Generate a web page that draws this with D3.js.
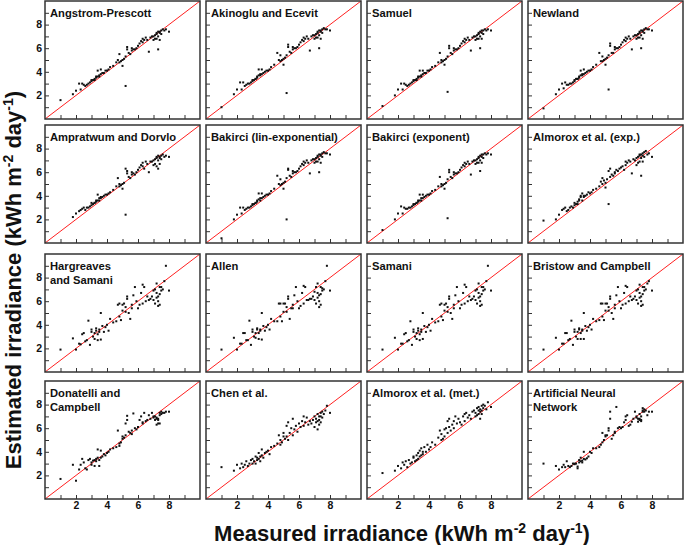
<!DOCTYPE html>
<html>
<head>
<meta charset="utf-8">
<script src="https://cdn.jsdelivr.net/npm/d3@7"></script>
<style>
  body { margin: 0; background: #fff; }
  svg text { font-family: "Liberation Sans", Arial, sans-serif; font-weight: bold; }
</style>
</head>
<body>
<div id="chart"></div>
<script>
// Panel titles (row by row)
var titles = [
  "Angstrom-Prescott", "Akinoglu and Ecevit", "Samuel", "Newland",
  "Ampratwum and Dorvlo", "Bakirci (lin-exponential)", "Bakirci (exponent)", "Almorox et al. (exp.)",
  "Hargreaves\nand Samani", "Allen", "Samani", "Bristow and Campbell",
  "Donatelli and\nCampbell", "Chen et al.", "Almorox et al. (met.)", "Artificial Neural\nNetwork"
];

// Measured irradiance (same for every panel)
var measured = [
  1.0,1.8,2.0,2.2,2.3,2.4,2.5,2.6,2.7,2.8,
  2.9,3.0,3.0,3.1,3.2,3.2,3.3,3.3,3.4,3.4,
  3.5,3.5,3.6,3.6,3.7,3.8,3.9,4.0,4.1,4.2,
  4.4,4.6,4.7,4.8,4.8,4.9,5.0,5.0,5.1,5.2,
  5.2,5.3,5.3,5.4,5.5,5.6,5.6,5.7,5.8,5.9,
  6.0,6.1,6.2,6.3,6.3,6.4,6.5,6.6,6.7,6.8,
  6.9,7.0,7.0,7.1,7.1,7.2,7.2,7.2,7.3,7.3,
  7.3,7.4,7.4,7.4,7.5,7.5,7.6,7.7,7.8,8.0
];

// Estimated irradiance, one array per model
var angstrom = [
  1.6,2.1,2.4,3.0,2.5,3.0,2.9,2.8,2.9,3.0,
  3.1,3.2,3.3,3.3,3.4,3.3,3.5,3.6,3.6,4.1,
  3.6,3.7,4.2,3.8,3.9,3.9,4.1,4.1,4.2,4.4,
  4.5,4.8,5.0,4.8,5.5,4.9,5.0,4.5,5.1,5.3,
  2.8,5.9,6.1,5.6,5.5,5.8,6.0,5.9,5.9,6.0,
  6.2,6.4,6.6,6.5,6.8,6.7,6.9,6.7,5.7,6.9,
  7.0,7.0,6.7,7.1,6.8,7.2,7.3,6.8,7.0,5.9,
  7.4,7.4,6.7,7.3,7.5,7.2,7.6,7.5,7.6,7.4
];
var akinoglu = [
  1.0,2.1,2.5,3.1,2.5,3.1,2.8,2.9,3.0,3.0,
  3.1,3.2,3.3,3.3,3.4,3.4,3.5,3.6,3.7,4.2,
  3.7,3.8,4.2,3.8,3.9,4.0,4.1,4.1,4.2,4.4,
  4.6,5.6,5.0,4.9,5.4,5.0,5.1,4.6,5.2,5.4,
  2.2,6.1,6.3,5.7,5.6,5.9,6.1,6.0,6.0,6.1,
  6.3,6.5,6.7,6.6,6.9,6.8,7.0,6.8,5.8,7.0,
  7.1,7.1,6.8,7.2,6.9,7.3,7.4,6.9,7.1,6.0,
  7.5,7.5,6.8,7.4,7.6,7.3,7.7,7.6,7.6,7.5
];
var samuel = [
  1.1,2.0,2.5,3.0,2.5,3.0,2.9,2.8,2.9,3.0,
  3.1,3.2,3.3,3.3,3.4,3.3,3.5,3.6,3.6,4.1,
  3.6,3.7,4.1,3.8,3.9,3.9,4.1,4.1,4.2,4.4,
  4.5,4.8,5.6,4.8,5.0,4.9,5.0,4.6,5.1,5.3,
  2.3,6.0,6.2,5.6,5.5,5.8,6.0,5.9,5.9,6.0,
  6.2,6.4,6.6,6.5,6.8,6.7,6.9,6.7,5.8,6.9,
  7.0,7.0,6.7,7.1,6.8,7.2,7.3,6.8,7.0,6.0,
  7.4,7.5,6.8,7.3,7.5,7.2,7.6,7.5,7.6,7.5
];
var newland = [
  0.9,2.1,2.5,3.0,2.6,3.1,2.9,2.9,3.0,3.0,
  3.1,3.2,3.3,3.4,3.4,3.4,3.5,3.6,3.7,4.1,
  3.7,3.8,4.2,3.8,3.9,4.0,4.1,4.1,4.2,4.4,
  4.6,5.6,4.9,4.9,5.3,5.0,5.1,4.6,5.2,5.4,
  2.5,6.2,6.4,5.6,5.6,5.9,6.1,6.0,6.0,6.1,
  6.3,6.5,6.7,6.6,6.9,6.8,7.0,6.8,5.9,7.0,
  7.1,7.1,6.8,7.2,6.9,7.3,7.4,6.9,7.1,6.0,
  7.5,7.5,6.8,7.4,7.6,7.3,7.7,7.6,7.6,7.5
];
var ampratwum = [
  null,2.2,2.5,2.7,2.8,2.9,3.0,2.8,3.0,3.0,
  3.1,3.2,3.4,3.3,3.4,3.4,3.5,3.6,3.6,4.1,
  3.6,3.8,3.9,3.8,3.9,4.0,4.1,4.1,4.2,4.3,
  4.5,4.8,5.5,4.8,5.0,4.9,5.0,4.6,5.1,6.3,
  2.4,5.9,6.1,5.6,5.5,5.8,6.0,5.9,5.8,6.0,
  6.2,6.4,6.6,6.5,6.8,6.3,6.9,6.7,6.0,6.9,
  6.9,7.0,6.6,7.1,6.7,7.2,7.3,6.5,7.0,6.3,
  7.4,7.3,6.7,7.2,7.4,7.1,7.5,7.3,7.4,7.3
];
var bakirciLin = [
  0.4,2.0,2.4,3.0,2.5,3.0,2.8,2.9,3.0,3.0,
  3.1,3.2,3.3,3.3,3.4,3.4,3.5,3.6,3.7,4.2,
  3.6,3.8,4.2,3.8,3.9,4.0,4.1,4.1,4.2,4.4,
  4.6,5.7,5.0,4.9,5.4,5.0,5.1,4.6,5.2,5.5,
  2.0,6.2,6.3,5.7,5.6,5.9,6.1,6.0,6.0,6.1,
  6.3,6.5,6.7,6.6,6.9,6.8,7.0,6.8,5.9,7.0,
  7.1,7.1,6.8,7.2,6.9,7.3,7.4,6.9,7.1,6.0,
  7.5,7.5,6.8,7.4,7.6,7.3,7.7,7.6,7.6,7.5
];
var bakirciExp = [
  1.1,2.0,2.5,3.1,2.5,3.0,2.9,2.9,3.0,3.0,
  3.1,3.2,3.3,3.3,3.4,3.4,3.5,3.6,3.6,4.1,
  3.6,3.8,4.1,3.8,3.9,4.0,4.1,4.1,4.2,4.4,
  4.5,4.8,5.6,4.8,5.0,4.9,5.0,4.6,5.1,5.4,
  2.1,6.0,6.2,5.6,5.5,5.8,6.0,5.9,5.9,6.0,
  6.2,6.4,6.6,6.5,6.8,6.7,6.9,6.7,5.8,6.9,
  7.0,7.0,6.7,7.1,6.8,7.2,7.3,6.8,7.0,6.1,
  7.4,7.5,6.8,7.3,7.5,7.2,7.6,7.5,7.6,7.5
];
var almoroxExp = [
  1.9,2.0,2.4,2.8,2.9,3.0,2.7,2.8,3.0,3.1,
  3.0,3.2,3.4,3.3,3.5,3.3,3.7,3.6,3.9,4.0,
  3.6,4.2,3.9,4.0,4.0,4.1,4.3,4.2,4.3,4.5,
  4.6,4.8,5.2,5.0,5.5,5.3,5.1,4.7,5.4,6.1,
  3.3,6.3,5.6,5.8,5.7,6.0,5.9,6.2,6.1,6.3,
  6.4,6.5,6.2,6.6,6.9,6.8,7.0,6.9,5.9,7.1,
  7.0,7.2,6.6,7.3,6.8,7.4,7.5,6.9,7.2,5.7,
  7.5,7.6,6.9,7.4,7.7,7.3,7.8,7.5,7.6,7.3
];
var hargreaves = [
  1.9,2.85,1.9,2.4,2.35,3.2,3.3,2.6,2.7,4.35,
  2.3,3.4,3.6,3.0,2.8,3.3,3.5,3.7,2.7,3.2,
  3.6,3.4,5.0,2.75,3.9,3.4,3.8,4.0,3.5,4.5,
  4.2,4.3,5.7,4.7,5.8,4.4,5.7,5.2,5.8,5.1,
  5.5,6.2,6.4,5.0,4.5,5.4,5.7,6.5,7.2,6.0,
  5.4,5.7,6.7,7.4,5.8,7.2,6.0,6.4,6.1,6.2,
  6.4,6.9,6.1,7.0,5.8,6.7,7.5,6.3,5.6,6.0,
  6.4,5.7,7.2,6.6,6.9,7.2,7.0,7.7,9.0,6.9
];
var allen = [
  1.9,2.9,1.9,2.4,2.4,3.3,3.3,2.7,2.7,4.35,
  2.3,3.4,3.6,3.0,2.9,3.3,3.6,3.7,2.8,3.3,
  3.6,3.5,5.0,2.75,3.9,3.5,3.8,4.0,3.6,4.5,
  4.3,4.3,5.8,4.7,5.8,4.3,5.8,5.1,5.8,5.1,
  5.5,6.2,6.4,4.5,5.4,5.4,5.7,6.5,7.2,6.0,
  5.4,5.6,6.7,7.3,5.8,7.2,6.1,6.1,6.2,6.2,
  6.4,6.8,6.1,7.2,5.8,7.5,6.7,6.3,5.5,6.0,
  6.5,5.7,7.2,6.6,6.9,7.1,7.0,7.7,9.0,6.9
];
var samani = [
  1.9,2.9,1.9,2.4,2.4,3.2,3.3,2.6,2.7,4.3,
  2.3,3.4,3.6,3.0,2.8,3.3,3.5,3.7,2.7,3.2,
  3.6,3.4,5.0,2.8,3.9,3.4,3.8,4.0,3.5,4.5,
  4.2,4.3,5.7,4.7,5.8,4.4,5.7,5.2,5.8,5.1,
  5.5,6.2,6.4,5.0,4.5,5.4,5.7,6.5,7.2,6.0,
  5.4,5.7,6.7,7.4,5.8,7.2,6.0,6.4,6.1,6.2,
  6.4,6.9,6.1,7.0,5.8,6.7,7.5,6.3,5.6,6.0,
  6.4,5.7,7.2,6.6,6.9,7.2,7.0,7.7,9.0,6.9
];
var bristow = [
  1.9,2.9,1.9,2.4,2.4,3.3,3.3,2.7,2.8,4.35,
  2.3,3.4,3.6,3.0,2.8,3.4,3.6,3.7,2.8,3.3,
  3.6,3.5,5.0,2.8,3.9,3.5,3.8,4.0,3.6,4.5,
  4.3,4.4,5.8,4.7,5.8,4.4,5.8,5.2,5.8,5.2,
  5.5,6.2,6.4,5.0,4.5,5.4,5.7,6.5,7.2,6.0,
  5.4,5.7,6.7,7.3,5.8,7.2,6.0,6.4,6.1,6.2,
  6.4,6.9,6.1,7.0,5.8,6.7,7.4,6.3,5.6,6.0,
  6.4,5.7,7.2,6.6,6.9,7.2,7.0,7.5,7.7,6.9
];
var donatelli = [
  1.7,2.9,1.55,2.5,2.9,3.4,3.1,2.6,2.5,3.3,
  3.4,2.9,3.1,3.25,3.3,2.8,3.4,3.2,4.2,3.5,
  3.3,2.8,4.1,3.5,3.6,3.8,3.7,3.9,4.0,4.2,
  4.3,4.4,5.8,4.5,4.7,4.8,5.1,5.3,5.2,6.4,
  5.4,6.7,7.05,5.7,5.6,5.8,5.5,7.25,6.0,5.9,
  6.1,6.7,7.0,6.4,6.5,7.3,6.6,6.7,7.1,6.8,
  7.3,6.9,7.0,6.7,7.0,6.8,6.3,6.9,6.4,6.8,
  6.7,7.3,7.1,6.4,7.4,7.2,7.3,7.3,7.4,7.4
];
var chen = [
  2.7,2.4,2.9,2.6,3.0,2.7,2.9,3.2,2.8,3.0,
  3.3,3.0,3.4,3.2,3.0,3.6,3.3,3.5,3.9,3.4,
  3.6,3.2,4.2,3.7,3.5,3.9,4.0,4.1,3.8,4.4,
  4.5,4.7,5.4,4.6,5.0,4.8,5.3,5.6,5.1,6.2,
  5.3,6.5,5.0,5.6,6.0,5.4,6.8,5.9,6.2,5.7,
  6.4,6.1,6.6,7.0,6.2,6.5,6.9,6.3,6.6,6.4,
  6.7,6.1,7.0,6.5,6.8,5.9,7.2,6.6,6.3,7.0,
  6.7,7.3,6.5,7.0,7.4,6.9,7.2,7.5,7.9,7.3
];
var almoroxMet = [
  2.2,2.4,2.8,2.6,3.1,2.9,3.2,2.7,3.3,3.0,
  3.1,3.5,3.6,3.2,3.7,3.3,3.4,3.9,3.6,4.1,
  3.7,4.3,4.0,3.8,4.4,4.0,4.6,4.2,4.4,4.8,
  4.6,5.2,5.8,5.0,5.5,5.1,5.9,5.3,6.0,6.6,
  5.6,6.1,6.8,5.8,6.3,6.6,6.0,7.0,6.4,6.8,
  6.5,6.3,7.0,7.2,6.6,7.3,6.9,7.1,6.8,7.4,
  7.5,7.0,7.3,7.7,7.1,7.5,7.8,7.2,7.4,6.8,
  7.6,7.9,7.2,7.5,8.0,7.7,7.9,7.6,8.2,7.8
];
var ann = [
  3.0,2.8,2.5,2.7,2.9,2.7,3.2,2.8,2.7,2.8,
  3.0,2.95,3.0,3.0,2.6,2.75,3.3,3.1,3.5,3.2,
  3.25,3.1,4.0,3.4,3.35,3.45,3.6,4.0,3.9,4.3,
  4.3,4.4,4.6,5.6,4.8,5.0,5.3,5.4,5.4,5.8,
  6.0,6.8,7.4,5.1,5.4,5.6,5.7,7.8,6.0,6.1,
  6.0,6.1,6.5,7.0,6.7,7.1,6.2,6.3,6.55,6.8,
  7.4,6.9,7.0,6.8,6.55,6.7,6.8,7.2,6.7,7.0,
  6.6,7.4,7.7,7.5,7.6,7.4,7.5,7.1,7.4,7.4
];

var estimates = [
  angstrom, akinoglu, samuel, newland,
  ampratwum, bakirciLin, bakirciExp, almoroxExp,
  hargreaves, allen, samani, bristow,
  donatelli, chen, almoroxMet, ann
];

var tickValues = [1, 2, 3, 4, 5, 6, 7, 8, 9];
var labelTicks = [2, 4, 6, 8];

// layout
var svgWidth = 685;
var svgHeight = 545;
var panelLefts = [45, 206, 367, 528];
var panelTops = [1, 125, 254, 381];
var panelW = 155;
var panelH = 118;

var svg = d3.select("#chart")
  .append("svg")
  .attr("width", svgWidth)
  .attr("height", svgHeight);

// Scales are the same for every panel
var xScale = d3.scaleLinear().domain([0, 10]).range([0, panelW]);
var yScale = d3.scaleLinear().domain([0, 10]).range([panelH, 0]);

var line = d3.line()
  .x(d => xScale(d[0]))
  .y(d => yScale(d[1]));

titles.forEach(function(title, i) {
  var row = Math.floor(i / 4);
  var col = i % 4;
  var g = svg.append("g")
    .attr("transform", `translate(${panelLefts[col]}, ${panelTops[row]})`);

  // bottom axis, ticks pointing inward
  var bottomAxis = d3.axisBottom(xScale)
    .tickValues(tickValues)
    .tickSize(-4)
    .tickPadding(3)
    .tickFormat(d => (row === 3 && labelTicks.includes(d)) ? d : "");
  var bx = g.append("g")
    .attr("transform", `translate(0, ${panelH})`)
    .call(bottomAxis);

  var leftAxis = d3.axisLeft(yScale)
    .tickValues(tickValues)
    .tickSize(-4)
    .tickPadding(3)
    .tickFormat(d => (col === 0 && labelTicks.includes(d)) ? d : "");
  var ly = g.append("g").call(leftAxis);

  [bx, ly].forEach(function(ax) {
    ax.select(".domain").remove();
    ax.selectAll("line").attr("stroke", "#333").attr("stroke-width", 1);
    ax.selectAll("text")
      .attr("font-size", "10.5px")
      .attr("font-family", "Liberation Sans, Arial, sans-serif")
      .attr("font-weight", "bold")
      .attr("fill", "#111");
  });

  // 1:1 line
  g.append("path")
    .datum([[0, 0], [10, 10]])
    .attr("d", line)
    .attr("stroke", "#ff2020")
    .attr("stroke-width", 1)
    .attr("fill", "none");

  // points
  var pts = measured.map((m, k) => ({ x: m, y: estimates[i][k] }))
    .filter(d => d.y !== null);
  g.selectAll("rect.pt")
    .data(pts)
    .enter()
    .append("rect")
    .attr("class", "pt")
    .attr("x", d => xScale(d.x) - 1)
    .attr("y", d => yScale(d.y) - 1)
    .attr("width", 2)
    .attr("height", 2)
    .attr("fill", "#111");

  // frame
  g.append("rect")
    .attr("width", panelW)
    .attr("height", panelH)
    .attr("fill", "none")
    .attr("stroke", "#333")
    .attr("stroke-width", 1.5);

  // title
  var t = g.append("text")
    .attr("x", 5)
    .attr("y", 16)
    .attr("font-size", "11.2px")
    .attr("fill", "#111");
  title.split("\n").forEach(function(part, j) {
    t.append("tspan")
      .attr("x", 5)
      .attr("dy", j === 0 ? 0 : 14)
      .text(part);
  });
});

// x axis title
var xTitle = svg.append("text")
  .attr("x", 402)
  .attr("y", 541)
  .attr("text-anchor", "middle")
  .attr("font-size", "22px")
  .attr("fill", "#111");
xTitle.append("tspan").text("Measured irradiance (kWh m");
xTitle.append("tspan").attr("dy", -8).attr("font-size", "14px").text("-2");
xTitle.append("tspan").attr("dy", 8).text(" day");
xTitle.append("tspan").attr("dy", -8).attr("font-size", "14px").text("-1");
xTitle.append("tspan").attr("dy", 8).text(")");

// y axis title
var yTitle = svg.append("text")
  .attr("transform", "translate(21, 280) rotate(-90)")
  .attr("text-anchor", "middle")
  .attr("font-size", "22px")
  .attr("fill", "#111");
yTitle.append("tspan").text("Estimated irradiance (kWh m");
yTitle.append("tspan").attr("dy", -8).attr("font-size", "14px").text("-2");
yTitle.append("tspan").attr("dy", 8).text(" day");
yTitle.append("tspan").attr("dy", -8).attr("font-size", "14px").text("-1");
yTitle.append("tspan").attr("dy", 8).text(")");
</script>
</body>
</html>
